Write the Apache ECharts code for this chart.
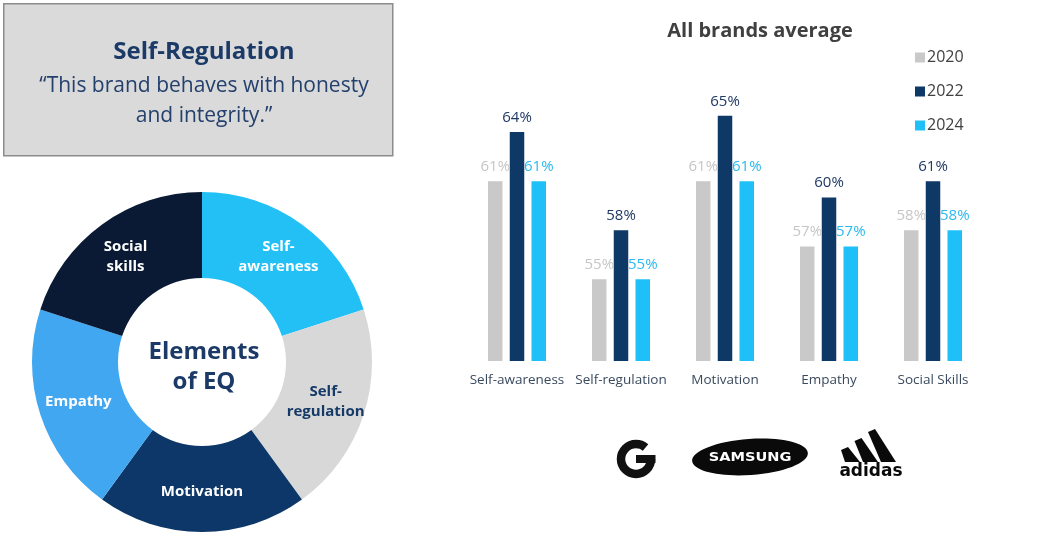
<!DOCTYPE html>
<html>
<head>
<meta charset="utf-8">
<title>Self-Regulation – Elements of EQ</title>
<script src="https://cdn.jsdelivr.net/npm/echarts@6/dist/echarts.min.js"></script>
<style>
  html, body { margin: 0; padding: 0; background: #ffffff; }
  #chart { width: 1049px; height: 534px; }
</style>
</head>
<body>
<div id="chart"></div>
<script>
// Elements of EQ shown in the ring (equal shares, clockwise from the top)
const elements = ['Self-\nawareness', 'Self-\nregulation', 'Motivation', 'Empathy', 'Social\nskills'];
const elementShares = [1, 1, 1, 1, 1];
const elementColors = ['#23c0f6', '#d8d8d8', '#0c3768', '#42a7f1', '#0a1a34'];
const elementLabelColors = ['#ffffff', '#163a68', '#ffffff', '#ffffff', '#ffffff'];

// All brands average, by element and survey year (%)
const categories = ['Self-awareness', 'Self-regulation', 'Motivation', 'Empathy', 'Social Skills'];
const years = ['2020', '2022', '2024'];
const values2020 = [61, 55, 61, 57, 58];
const values2022 = [64, 58, 65, 60, 61];
const values2024 = [61, 55, 61, 57, 58];

const FONT = '"Open Sans", "Noto Sans", sans-serif';
const NAVY = '#1b3a67';

const chart = echarts.init(document.getElementById('chart'), null, { renderer: 'canvas' });

const barColors = ['#c9c9c9', '#0e3866', '#1fc0f8'];
const barLabelColors = ['#c6c6c6', '#1f3864', '#2ab9ee'];
const yearValues = [values2020, values2022, values2024];

// Three-stripe mark: bars leaning down to the right, bottoms on one line
function stripe(x, h) {
  const base = 462, w = 15, lean = 0.5;
  return [[x, base], [x + w, base], [x + w - lean * h - 6, base - h - 3], [x - lean * h + 2, base - h]];
}

chart.setOption({
  textStyle: { fontFamily: FONT },
  animation: false,
  title: {
    text: 'All brands average',
    left: 755, top: 16, textAlign: 'center',
    textStyle: { fontSize: 20, fontWeight: 'bold', color: '#404040', fontFamily: FONT }
  },
  legend: {
    orient: 'vertical',
    left: 910, top: 44,
    itemWidth: 10, itemHeight: 10, itemGap: 17,
    icon: 'rect',
    data: years,
    textStyle: { fontSize: 16, color: '#404040', lineHeight: 17, padding: [0, 0, 0, -3] }
  },
  grid: { left: 465, right: 64, top: 34, bottom: 173 },
  xAxis: {
    type: 'category',
    data: categories,
    axisLine: { show: false },
    axisTick: { show: false },
    axisLabel: { color: '#3a4a5e', fontSize: 13.5, margin: 12, interval: 0 }
  },
  yAxis: {
    type: 'value', min: 50, max: 70, show: false,
    splitLine: { show: false }
  },
  series: [
    {
      type: 'pie',
      center: [202, 362],
      radius: [84, 170],
      startAngle: 90,
      clockwise: true,
      silent: true,
      data: elements.map((name, i) => ({
        name: name,
        value: elementShares[i],
        itemStyle: { color: elementColors[i] },
        label: { color: elementLabelColors[i] }
      })),
      label: {
        show: true,
        position: 'inside',
        formatter: '{b}',
        fontSize: 15,
        fontWeight: 'bold',
        lineHeight: 20
      },
      labelLine: { show: false },
      emphasis: { disabled: true }
    }
  ].concat(years.map((y, i) => ({
    type: 'bar',
    name: y,
    data: yearValues[i],
    barWidth: 14.5,
    barGap: '50%',
    itemStyle: { color: barColors[i] },
    label: {
      show: true,
      position: 'top',
      distance: 7,
      formatter: '{c}%',
      fontSize: 15,
      color: barLabelColors[i]
    }
  }))),
  graphic: [
    // quote box
    {
      type: 'rect', left: 3, top: 3,
      shape: { width: 389, height: 152 },
      style: { fill: '#dadada', stroke: '#8c8c8c', lineWidth: 1.5 }
    },
    {
      type: 'text', x: 204, y: 52,
      style: { text: 'Self-Regulation', fill: NAVY, font: 'bold 24px ' + FONT, align: 'center', verticalAlign: 'middle' }
    },
    {
      type: 'text', x: 204, y: 86,
      style: { text: '\u201cThis brand behaves with honesty', fill: '#24406c', font: '21px ' + FONT, align: 'center', verticalAlign: 'middle' }
    },
    {
      type: 'text', x: 204, y: 116,
      style: { text: 'and integrity.\u201d', fill: '#24406c', font: '21px ' + FONT, align: 'center', verticalAlign: 'middle' }
    },
    // ring centre caption
    {
      type: 'text', x: 204, y: 367,
      style: { text: 'Elements\nof EQ', fill: NAVY, font: 'bold 24px ' + FONT, lineHeight: 30, align: 'center', verticalAlign: 'middle' }
    },
    // brand marks
    {
      type: 'arc',
      shape: { cx: 636, cy: 459, r: 15, startAngle: 0, endAngle: Math.PI * 1.72, clockwise: true },
      style: { stroke: '#111111', lineWidth: 8.5, fill: null }
    },
    {
      type: 'rect',
      shape: { x: 636, y: 455, width: 19.5, height: 8 },
      style: { fill: '#111111' }
    },
    {
      type: 'ellipse',
      x: 750, y: 457, rotation: 0.07,
      shape: { cx: 0, cy: 0, rx: 58, ry: 18 },
      style: { fill: '#0a0a0a' }
    },
    {
      type: 'text', x: 750, y: 458,
      style: { text: 'SAMSUNG', fill: '#ffffff', font: 'bold 13px "DejaVu Sans", sans-serif', align: 'center', verticalAlign: 'middle' },
      scaleX: 1.12
    },
    { type: 'polygon', shape: { points: stripe(845, 12) }, style: { fill: '#0a0a0a' } },
    { type: 'polygon', shape: { points: stripe(863, 21) }, style: { fill: '#0a0a0a' } },
    { type: 'polygon', shape: { points: stripe(881, 30) }, style: { fill: '#0a0a0a' } },
    {
      type: 'text', x: 871, y: 472,
      style: { text: 'adidas', fill: '#0a0a0a', font: 'bold 17px "DejaVu Sans", sans-serif', align: 'center', verticalAlign: 'middle' }
    }
  ]
});
</script>
</body>
</html>
